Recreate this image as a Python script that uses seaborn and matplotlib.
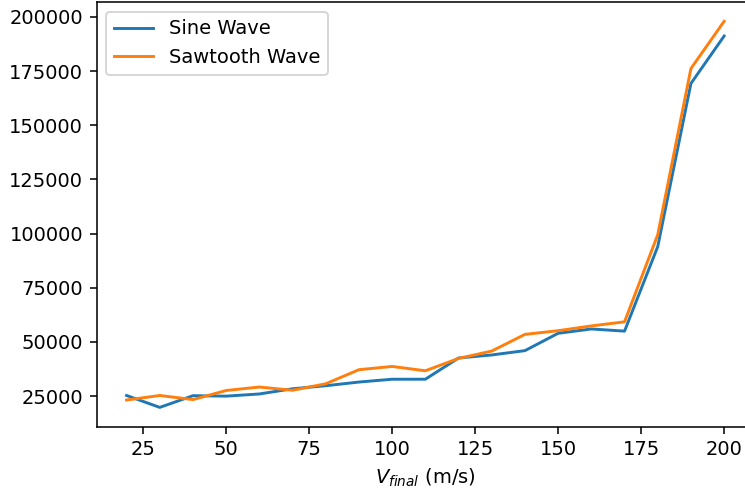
import matplotlib
matplotlib.use("Agg")
import matplotlib.pyplot as plt
import seaborn as sns
import pandas as pd

v_final = [20, 30, 40, 50, 60, 70, 80, 90, 100, 110, 120, 130, 140, 150, 160, 170, 180, 190, 200]
sine_wave = [25300, 19800, 25200, 25000, 26000, 28400, 29800, 31500, 32800, 32800, 42600, 44000, 46000,
             54000, 56000, 55000, 94000, 169300, 191200]
sawtooth_wave = [23200, 25300, 23400, 27600, 29200, 27700, 30700, 37200, 38700, 36700, 42400, 45800, 53500,
                 55200, 57400, 59300, 99500, 176200, 198000]

df = pd.DataFrame({
    "v": v_final * 2,
    "val": sine_wave + sawtooth_wave,
    "series": ["Sine Wave"] * len(v_final) + ["Sawtooth Wave"] * len(v_final),
})

DPI = 140
fig, ax = plt.subplots(figsize=(745 / DPI, 493 / DPI), dpi=DPI)
fig.subplots_adjust(left=96.7 / 745, right=754 / 745, top=1 - 2 / 493, bottom=1 - 426.7 / 493)
sns.lineplot(data=df, x="v", y="val", hue="series", palette=["#1f77b4", "#ff7f0e"], ax=ax)
ax.set_xlabel(r"$V_{final}$ (m/s)")
ax.set_ylabel("")
ax.legend(loc="upper left")
fig.savefig("out.png", dpi=DPI)
